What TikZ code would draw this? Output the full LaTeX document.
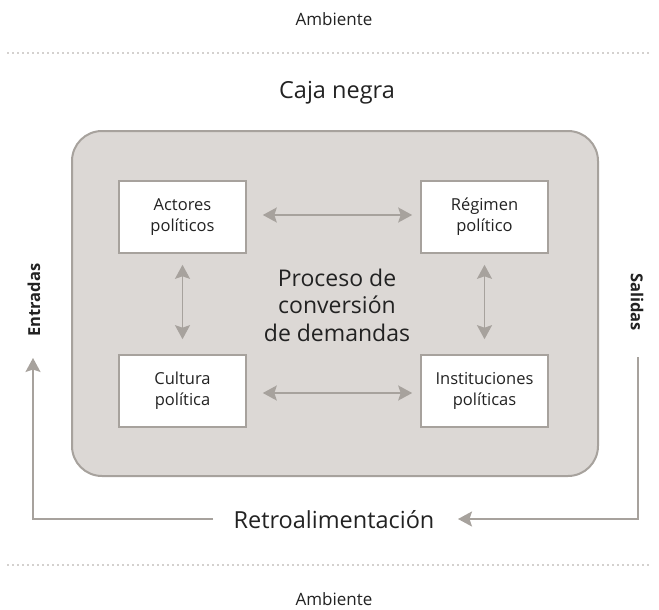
\documentclass[tikz,border=0pt]{standalone}
\usepackage{fontspec}
\setmainfont{Open Sans}
\usetikzlibrary{arrows.meta}
\definecolor{linegray}{HTML}{A7A29D}
\definecolor{fillgray}{HTML}{DCD8D5}
\definecolor{txt}{HTML}{222222}
\tikzset{
  tip/.tip={Stealth[length=14pt,width=15pt,inset=2.5pt]},
  innerbox/.style={draw=linegray, line width=1.6pt, fill=white, minimum width=127pt, minimum height=72pt, inner sep=0pt, align=center, font=\fontsize{16.5}{21}\selectfont, text=txt},
  conn/.style={draw=linegray, line width=1.8pt, tip-tip},
  fbarrow/.style={draw=linegray, line width=1.8pt, -tip},
  dotline/.style={draw=linegray, line width=1.8pt, dash pattern=on 0pt off 5pt, line cap=round},
  lbl/.style={text=txt, inner sep=0pt, anchor=base}
}
\begin{document}
\begin{tikzpicture}[x=1pt,y=-1pt]
\useasboundingbox (0,0) rectangle (659,610);
\node[lbl, font=\fontsize{17}{20}\selectfont] (amb1) at (334,26) {Ambiente};
\coordinate (d1a) at (8,53); \coordinate (d1b) at (651,53);
\draw[dotline] (d1a) -- (d1b);
\node[lbl, font=\fontsize{23.5}{28}\selectfont] (caja) at (337,99) {Caja negra};
\node[draw=linegray, line width=2pt, fill=fillgray, rounded corners=30pt, minimum width=526pt, minimum height=345pt, inner sep=0pt] (bb) at (335,303.5) {};
\node[innerbox] (act) at (182.5,217) {Actores\\políticos};
\node[innerbox] (reg) at (484.5,217) {Régimen\\político};
\node[innerbox] (cul) at (182.5,391) {Cultura\\política};
\node[innerbox] (ins) at (484.5,391) {Instituciones\\políticas};
\node[text=txt, inner sep=0pt, align=center, font=\fontsize{23}{27.5}\selectfont] (proc) at (337,305) {Proceso de\\conversión\\de demandas};
\draw[conn] ([xshift=16pt,yshift=2pt]act.east) -- ([xshift=-8pt,yshift=2pt]reg.west);
\draw[conn] ([xshift=16pt,yshift=-2pt]cul.east) -- ([xshift=-8pt,yshift=-2pt]ins.west);
\draw[conn] ([yshift=-11pt]act.south) -- ([yshift=15pt]cul.north);
\draw[conn] ([yshift=-11pt]reg.south) -- ([yshift=15pt]ins.north);
\node[text=txt, inner sep=0pt, rotate=90, font=\bfseries\fontsize{16.5}{20}\selectfont] (ent) at (34,300) {Entradas};
\node[text=txt, inner sep=0pt, rotate=-90, font=\bfseries\fontsize{16.5}{20}\selectfont] (sal) at (637,302) {Salidas};
\node[lbl, font=\fontsize{23.5}{28}\selectfont] (retro) at (334,528) {Retroalimentación};
\coordinate (lc) at (33,519);
\coordinate (ltip) at (33,358);
\coordinate (lstart) at (213,519);
\coordinate (rc) at (638,519);
\coordinate (rtop) at (638,357);
\coordinate (rtip) at (458,519);
\draw[fbarrow] (lstart) -- (lc) -- (ltip);
\draw[fbarrow] (rtop) -- (rc) -- (rtip);
\coordinate (d2a) at (8,565); \coordinate (d2b) at (651,565);
\draw[dotline] (d2a) -- (d2b);
\node[lbl, font=\fontsize{17}{20}\selectfont] (amb2) at (334,605) {Ambiente};
\end{tikzpicture}
\end{document}
